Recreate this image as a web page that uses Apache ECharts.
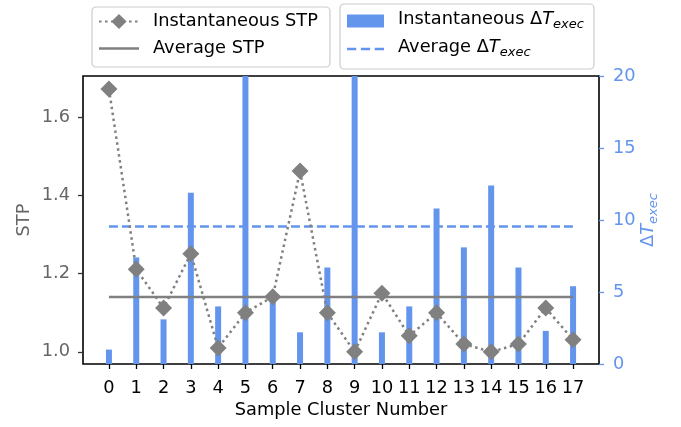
<!DOCTYPE html>
<html><head><meta charset="utf-8">
<script src="https://cdn.jsdelivr.net/npm/echarts@6/dist/echarts.min.js"></script>
<style>html,body{margin:0;padding:0;background:#fff}#c{width:681px;height:427px}</style>
</head><body><div id="c"></div>
<script>
const clusters = [0, 1, 2, 3, 4, 5, 6, 7, 8, 9, 10, 11, 12, 13, 14, 15, 16, 17];
const stpValues = [1.672, 1.211, 1.112, 1.251, 1.010, 1.100, 1.141, 1.462, 1.100, 1.000, 1.150, 1.041, 1.100, 1.020, 1.000, 1.020, 1.112, 1.031];
const deltaTValues = [1.0, 7.4, 3.1, 11.9, 4.0, 39.5, 4.7, 2.2, 6.7, 39.5, 2.2, 4.0, 10.8, 8.1, 12.4, 6.7, 2.3, 5.4];
const avgStp = 1.14;
const avgDeltaT = 9.54;
const stpTicks = [1.0, 1.2, 1.4, 1.6];
const deltaTTicks = [0, 5, 10, 15, 20];

const FONT = 'DejaVu Sans';
const FS = 17.8;
const BLUE = '#6495ED';
const GRAY = '#808080';
const LABEL_GRAY = '#666666';

const richFor = (color) => ({
  n: {fontFamily: FONT, fontSize: FS, color: color, verticalAlign: 'bottom', lineHeight: 20, padding: [0, 0, 3, 0]},
  t: {fontFamily: FONT, fontSize: FS, fontStyle: 'italic', color: color, verticalAlign: 'bottom', lineHeight: 20, padding: [0, 0, 3, 0]},
  s: {fontFamily: FONT, fontSize: 13, fontStyle: 'italic', color: color, verticalAlign: 'bottom', lineHeight: 20}
});

const chart = echarts.init(document.getElementById('c'), null, {renderer: 'canvas'});
const legendNames = {
  'Instantaneous ΔT_exec': '{n|Instantaneous Δ}{t|T}{s|exec}',
  'Average ΔT_exec': '{n|Average Δ}{t|T}{s|exec}'
};
const solidIcon = 'path://M0,0L40,0L40,2.5L0,2.5Z';
const dashedIcon = 'path://M0,0L9,0L9,2.5L0,2.5Z M13.5,0L22.5,0L22.5,2.5L13.5,2.5Z M27,0L36,0L36,2.5L27,2.5Z';

chart.setOption({
  animation: false,
  backgroundColor: '#fff',
  grid: {left: 83, right: 82, top: 76, bottom: 63, show: true, borderColor: '#000', borderWidth: 1.6, backgroundColor: 'transparent'},
  legend: [
    {
      data: ['Instantaneous STP', {name: 'Average STP', icon: solidIcon, itemStyle: {borderWidth: 0}}],
      orient: 'vertical', left: 92, top: 7,
      padding: [5, 12, 9, 6],
      itemWidth: 40, itemHeight: 19, itemGap: 8,
      borderColor: '#cccccc', borderWidth: 1.2, borderRadius: 4,
      textStyle: {fontFamily: FONT, fontSize: FS, color: '#000', padding: [0, 0, 0, 9], lineHeight: 19}
    },
    {
      data: [{name: 'Instantaneous ΔT_exec', icon: 'rect'}, {name: 'Average ΔT_exec', icon: dashedIcon, itemStyle: {borderWidth: 0}}],
      orient: 'vertical', left: 340, top: 4,
      padding: [6, 10, 10, 7],
      itemWidth: 37, itemHeight: 13, itemGap: 7,
      borderColor: '#cccccc', borderWidth: 1.2, borderRadius: 4,
      formatter: (name) => legendNames[name],
      textStyle: {fontFamily: FONT, fontSize: FS, color: '#000', padding: [0, 0, 0, 9], rich: richFor('#000')}
    }
  ],
  xAxis: {
    type: 'value', min: -0.95, max: 17.95,
    name: 'Sample Cluster Number', nameLocation: 'middle', nameGap: 37, nameMoveOverlap: false,
    nameTextStyle: {fontFamily: FONT, fontSize: FS, color: '#000'},
    axisLine: {show: false, onZero: false},
    splitLine: {show: false},
    axisTick: {show: true, customValues: clusters, length: 5, lineStyle: {color: '#000', width: 1.3}},
    axisLabel: {customValues: clusters, margin: 15, fontFamily: FONT, fontSize: FS, color: '#000', formatter: (v) => String(Math.round(v))}
  },
  yAxis: [
    {
      type: 'value', min: 0.969, max: 1.705, position: 'left',
      name: 'STP', nameLocation: 'middle', nameGap: 50, nameMoveOverlap: false,
      nameTextStyle: {fontFamily: FONT, fontSize: FS, color: LABEL_GRAY},
      axisLine: {show: false, onZero: false},
      splitLine: {show: false},
      axisTick: {show: true, customValues: stpTicks, length: 5, lineStyle: {color: '#333', width: 1.3}},
      axisLabel: {customValues: stpTicks, margin: 13, fontFamily: FONT, fontSize: FS, color: LABEL_GRAY, formatter: (v) => v.toFixed(1)}
    },
    {
      type: 'value', min: 0, max: 20, interval: 5, position: 'right',
      name: '{n|Δ}{t|T}{s|exec}', nameLocation: 'middle', nameGap: 41, nameMoveOverlap: false,
      nameTextStyle: {fontFamily: FONT, fontSize: FS, color: BLUE, rich: richFor(BLUE)},
      axisLine: {show: false, onZero: false},
      splitLine: {show: false},
      axisTick: {show: true, length: 5, lineStyle: {color: BLUE, width: 1.3}},
      axisLabel: {margin: 14, fontFamily: FONT, fontSize: FS, color: BLUE}
    }
  ],
  series: [
    {
      name: 'Instantaneous ΔT_exec', type: 'bar', yAxisIndex: 1,
      data: clusters.map((c, i) => [c, deltaTValues[i]]),
      barWidth: 6, itemStyle: {color: BLUE}, z: 1, clip: true
    },
    {
      name: 'Average ΔT_exec', type: 'line', yAxisIndex: 1,
      data: [[clusters[0], avgDeltaT], [clusters[clusters.length - 1], avgDeltaT]],
      symbol: 'none', lineStyle: {color: BLUE, width: 2.5, type: [9, 4]}, itemStyle: {color: BLUE}, z: 2
    },
    {
      name: 'Average STP', type: 'line', yAxisIndex: 0,
      data: [[clusters[0], avgStp], [clusters[clusters.length - 1], avgStp]],
      symbol: 'none', lineStyle: {color: GRAY, width: 2.5}, itemStyle: {color: GRAY}, z: 3
    },
    {
      name: 'Instantaneous STP', type: 'line', yAxisIndex: 0,
      data: clusters.map((c, i) => [c, stpValues[i]]),
      symbol: 'diamond', symbolSize: 17,
      itemStyle: {color: GRAY},
      lineStyle: {color: GRAY, width: 2.5, type: [2.5, 3.5]}, z: 4
    }
  ]
});
</script>
</body></html>
